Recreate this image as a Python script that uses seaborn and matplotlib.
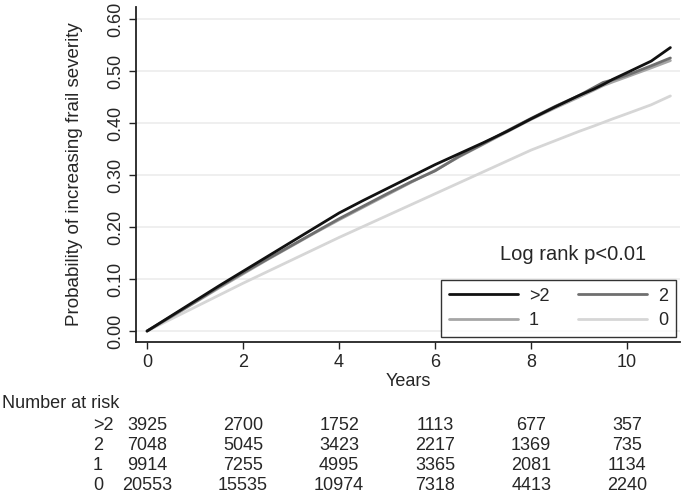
import numpy as np
import pandas as pd
import matplotlib
matplotlib.use("Agg")
import matplotlib.pyplot as plt
import seaborn as sns
from matplotlib.lines import Line2D

# ---------------- data ----------------
years = [0, 0.5, 1, 1.5, 2, 2.5, 3, 3.5, 4, 4.5, 5, 5.5, 6, 6.5, 7, 7.5,
         8, 8.5, 9, 9.3, 9.5, 9.7, 10, 10.5, 10.9]
prob_gt2 = [0, 0.029, 0.058, 0.087, 0.115, 0.143, 0.171, 0.199, 0.227, 0.251,
            0.274, 0.297, 0.320, 0.341, 0.362, 0.384, 0.408, 0.431, 0.453,
            0.465, 0.474, 0.484, 0.497, 0.519, 0.545]
prob_2 = [0, 0.028, 0.056, 0.085, 0.112, 0.138, 0.164, 0.190, 0.216, 0.240,
          0.264, 0.287, 0.308, 0.336, 0.360, 0.385, 0.409, 0.432, 0.453,
          0.468, 0.478, 0.483, 0.492, 0.510, 0.525]
prob_1 = [0, 0.027, 0.055, 0.083, 0.110, 0.137, 0.163, 0.189, 0.214, 0.238,
          0.262, 0.286, 0.309, 0.335, 0.359, 0.383, 0.407, 0.429, 0.450,
          0.463, 0.472, 0.479, 0.489, 0.506, 0.520]
prob_0 = [0, 0.023, 0.046, 0.069, 0.092, 0.114, 0.136, 0.158, 0.180, 0.201,
          0.222, 0.243, 0.264, 0.285, 0.306, 0.327, 0.348, 0.366, 0.384,
          0.394, 0.401, 0.408, 0.418, 0.435, 0.452]

groups = [">2", "2", "1", "0"]
group_colors = ["#111111", "#6f6f6f", "#a6a6a6", "#d6d6d6"]

risk_times = [0, 2, 4, 6, 8, 10]
risk_gt2 = [3925, 2700, 1752, 1113, 677, 357]
risk_2 = [7048, 5045, 3423, 2217, 1369, 735]
risk_1 = [9914, 7255, 4995, 3365, 2081, 1134]
risk_0 = [20553, 15535, 10974, 7318, 4413, 2240]

x_ticks = [0, 2, 4, 6, 8, 10]
y_ticks = [0.0, 0.1, 0.2, 0.3, 0.4, 0.5, 0.6]

# ---------------- build frame ----------------
series = {">2": prob_gt2, "2": prob_2, "1": prob_1, "0": prob_0}
df = pd.concat(
    [pd.DataFrame({"Years": years, "prob": v, "group": g}) for g, v in series.items()],
    ignore_index=True,
)

sns.set_style("white")
plt.rcParams["font.family"] = ["Liberation Sans", "DejaVu Sans"]
FS = 13

W, H = 685, 496
fig = plt.figure(figsize=(W / 100, H / 100), dpi=100)
L, R, T, B = 136, 680, 7, 342
ax = fig.add_axes([L / W, 1 - B / H, (R - L) / W, (B - T) / H])

# gridlines first
for yv in y_ticks:
    ax.axhline(yv, color="#ececec", lw=1.2, zorder=0)

palette = dict(zip(groups, group_colors))
# draw in order so black is on top
sns.lineplot(data=df, x="Years", y="prob", hue="group",
             hue_order=["0", "1", "2", ">2"], palette=palette,
             linewidth=2.0, ax=ax, legend=False, estimator=None, sort=False)

ax.set_xlim(-0.23, 11.1)
ax.set_ylim(-0.021, 0.623)
ax.set_xticks(x_ticks)
ax.set_xticklabels([str(t) for t in x_ticks], fontsize=FS)
ax.set_yticks(y_ticks)
ax.set_yticklabels([f"{v:.2f}" for v in y_ticks], fontsize=FS)
for lab in ax.get_yticklabels():
    lab.set_rotation(90)
    lab.set_va("center")
    lab.set_ha("right")

ax.tick_params(axis="both", direction="out", length=5, width=1.0,
               color="#222222", pad=3.5, left=True, bottom=True)
for side in ["top", "right"]:
    ax.spines[side].set_visible(False)
for side in ["left", "bottom"]:
    ax.spines[side].set_color("#222222")
    ax.spines[side].set_linewidth(1.3)

ax.set_xlabel("Years", fontsize=FS)
ax.xaxis.set_label_coords(0.5, (B - 381) / (B - T))
ax.xaxis.label.set_va("center")
ax.set_ylabel("Probability of increasing frail severity", fontsize=13.5)
ax.yaxis.set_label_coords((75 - L) / (R - L), 0.5)
ax.yaxis.label.set_va("center")

# legend (column-wise fill: >2,1 | 2,0)
order = [">2", "1", "2", "0"]
handles = [Line2D([0], [0], color=palette[g], lw=2.0) for g in order]
leg = ax.legend(handles, order, ncol=2, fontsize=FS, loc="lower right",
                bbox_to_anchor=((676 - L) / (R - L), (B - 337) / (B - T)),
                borderaxespad=0, frameon=True, fancybox=False,
                handlelength=3.8, handletextpad=0.6, columnspacing=1.6,
                labelspacing=0.4, borderpad=0.45)
leg.get_frame().set_edgecolor("black")
leg.get_frame().set_linewidth(1.0)

fig.text(573 / W, 1 - 255 / H, "Log rank p<0.01", fontsize=14.5,
         ha="center", va="center")

# number at risk table
fig.text(2 / W, 1 - 403 / H, "Number at risk", fontsize=FS, ha="left", va="center")
risk_rows = [(">2", risk_gt2), ("2", risk_2), ("1", risk_1), ("0", risk_0)]
row_y = [425, 445, 466, 486]
trans = matplotlib.transforms.blended_transform_factory(ax.transData, fig.transFigure)
for (lab, vals), yp in zip(risk_rows, row_y):
    fig.text(93 / W, 1 - yp / H, lab, fontsize=FS, ha="left", va="center")
    for t, v in zip(risk_times, vals):
        ax.text(t, 1 - yp / H, str(v), fontsize=FS, ha="center", va="center",
                transform=trans, clip_on=False)

fig.savefig("out.png", dpi=100)
